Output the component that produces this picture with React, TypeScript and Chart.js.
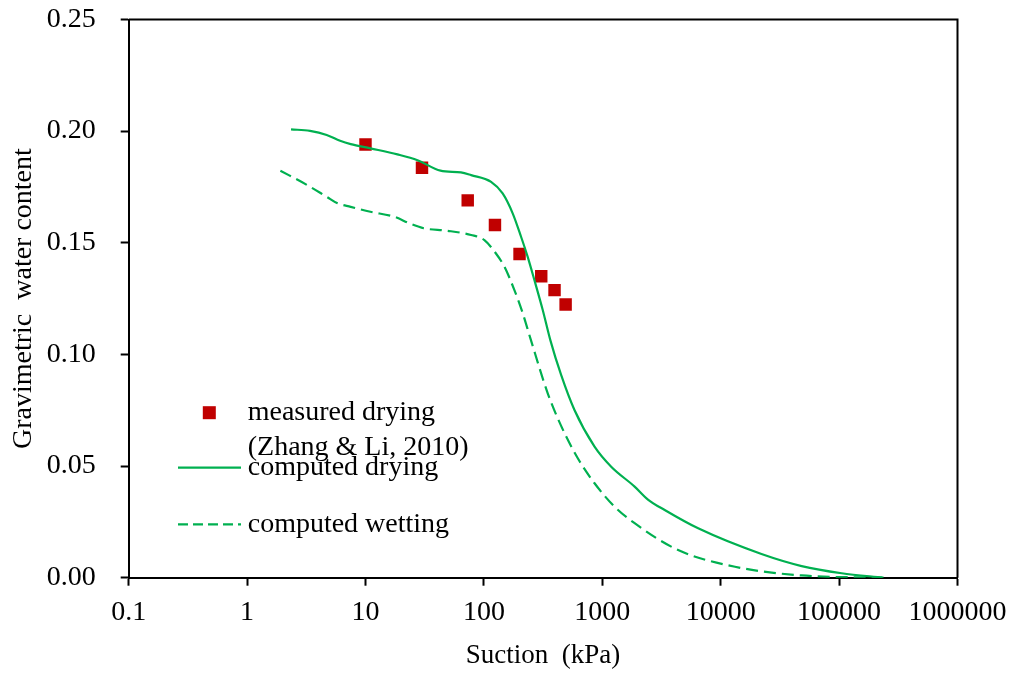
import { useEffect, useRef } from "react";
import { Chart, registerables } from "chart.js";

Chart.register(...registerables);

const FONT = "'Times New Roman', 'Liberation Serif', serif";
const GREEN = "#00B050";
const RED = "#C00000";

const xTickValues = [0.1, 1, 10, 100, 1000, 10000, 100000, 1000000];
const xTickLabels = ["0.1", "1", "10", "100", "1000", "10000", "100000", "1000000"];
const yTickValues = [0, 0.05, 0.1, 0.15, 0.2, 0.25];
const yTickLabels = ["0.00", "0.05", "0.10", "0.15", "0.20", "0.25"];

const measuredSuction = [10, 30, 73, 124, 200, 305, 395, 490];
const measuredWater = [0.194, 0.1836, 0.169, 0.158, 0.145, 0.135, 0.1288, 0.1224];

const dryingSuction = [2.35, 3.4, 4.7, 6.1, 7.5, 11, 18.6, 27.5, 43, 64, 78, 115, 144, 175, 206, 234, 267, 314, 364, 449, 582, 860, 1189, 1875, 2430, 3365, 6450, 22100, 48300, 105000, 237000];
const dryingWater = [0.2008, 0.2001, 0.1983, 0.1957, 0.1942, 0.1923, 0.1896, 0.187, 0.1823, 0.1815, 0.1803, 0.1773, 0.1721, 0.1632, 0.1527, 0.1438, 0.1333, 0.1199, 0.1064, 0.0908, 0.0751, 0.0587, 0.0497, 0.0408, 0.035, 0.0303, 0.0221, 0.0106, 0.0052, 0.002, 0.0];

const wettingSuction = [1.91, 3.2, 4.7, 5.8, 7.5, 11, 17.4, 24, 31, 49, 78, 101, 126, 149, 181, 213, 247, 346, 449, 621, 860, 1268, 1875, 4370, 13200, 48300, 230000];
const wettingWater = [0.1823, 0.1759, 0.1706, 0.1677, 0.1661, 0.1639, 0.1617, 0.1585, 0.1565, 0.1554, 0.1535, 0.1512, 0.1453, 0.1393, 0.1288, 0.1184, 0.1072, 0.0826, 0.068, 0.0535, 0.0423, 0.0318, 0.0244, 0.0124, 0.0049, 0.001, 0.0];

const legendLabels = ["measured drying", "(Zhang & Li, 2010)", "computed drying", "computed wetting"];

const toPoints = (xs: number[], ys: number[]) => xs.map((x, i) => ({ x, y: ys[i] }));

const framePlugin = {
  id: "frameLegend",
  afterDatasetsDraw(chart: any) {
    const { ctx, chartArea: a } = chart;
    ctx.save();
    ctx.strokeStyle = "#000";
    ctx.lineWidth = 2;
    ctx.beginPath();
    ctx.moveTo(a.left, a.top);
    ctx.lineTo(a.right, a.top);
    ctx.lineTo(a.right, a.bottom);
    ctx.stroke();

    // legend
    ctx.fillStyle = RED;
    ctx.fillRect(209.3 - 6.5, 412.7 - 6.5, 13, 13);
    ctx.strokeStyle = GREEN;
    ctx.lineWidth = 2.2;
    ctx.beginPath();
    ctx.moveTo(178, 467.7);
    ctx.lineTo(241, 467.7);
    ctx.stroke();
    ctx.setLineDash([10, 5]);
    ctx.beginPath();
    ctx.moveTo(178, 524.3);
    ctx.lineTo(241, 524.3);
    ctx.stroke();
    ctx.setLineDash([]);
    ctx.fillStyle = "#000";
    ctx.font = `28px ${FONT}`;
    ctx.textAlign = "left";
    ctx.textBaseline = "alphabetic";
    const baselines = [420, 455, 475, 531.7];
    legendLabels.forEach((t, i) => ctx.fillText(t, 247.7, baselines[i]));
    ctx.restore();
  },
};

export default function App() {
  const ref = useRef<HTMLCanvasElement | null>(null);
  useEffect(() => {
    document.body.style.margin = "0";
    const canvas = ref.current;
    if (!canvas) return;
    const chart = new Chart(canvas, {
      type: "scatter",
      data: {
        datasets: [
          {
            label: "computed drying",
            data: toPoints(dryingSuction, dryingWater),
            showLine: true,
            borderColor: GREEN,
            borderWidth: 2.2,
            pointRadius: 0,
            cubicInterpolationMode: "monotone",
          } as any,
          {
            label: "computed wetting",
            data: toPoints(wettingSuction, wettingWater),
            showLine: true,
            borderColor: GREEN,
            borderWidth: 2.2,
            borderDash: [12, 6],
            pointRadius: 0,
            cubicInterpolationMode: "monotone",
          } as any,
          {
            label: "measured drying",
            data: toPoints(measuredSuction, measuredWater),
            showLine: false,
            pointStyle: "rect",
            pointRadius: 8.8,
            backgroundColor: RED,
            borderColor: RED,
            borderWidth: 0,
          } as any,
        ],
      },
      options: {
        animation: false,
        responsive: false,
        layout: { padding: { left: 0, top: 19.5, right: 59.5, bottom: 0 } },
        plugins: { legend: { display: false }, tooltip: { enabled: false } },
        scales: {
          x: {
            type: "logarithmic",
            min: 0.1,
            max: 1000000,
            afterBuildTicks: (s: any) => {
              s.ticks = xTickValues.map((v) => ({ value: v }));
            },
            afterFit: (s: any) => {
              s.height = 99.3;
              s.paddingLeft = 0;
              s.paddingRight = 0;
              s.paddingTop = 0;
              s.paddingBottom = 0;
            },
            ticks: {
              autoSkip: false,
              maxRotation: 0,
              padding: 10,
              color: "#000",
              font: { family: FONT, size: 28 },
              callback: (_v: any, i: number) => xTickLabels[i],
            },
            grid: { drawOnChartArea: false, drawTicks: true, tickLength: 8, tickWidth: 2, tickColor: "#000" },
            border: { display: true, color: "#000", width: 2 },
            title: {
              display: true,
              text: "Suction  (kPa)",
              color: "#000",
              font: { family: FONT, size: 27 },
              padding: { top: 0, bottom: 5 },
            },
          },
          y: {
            type: "linear",
            min: 0,
            max: 0.25,
            afterBuildTicks: (s: any) => {
              s.ticks = yTickValues.map((v) => ({ value: v }));
            },
            afterFit: (s: any) => {
              s.width = 128.7;
              s.paddingLeft = 0;
              s.paddingRight = 0;
              s.paddingTop = 0;
              s.paddingBottom = 0;
            },
            ticks: {
              padding: 25,
              color: "#000",
              font: { family: FONT, size: 28 },
              callback: (_v: any, i: number) => yTickLabels[i],
            },
            grid: { drawOnChartArea: false, drawTicks: true, tickLength: 8, tickWidth: 2, tickColor: "#000" },
            border: { display: true, color: "#000", width: 2 },
            title: {
              display: true,
              text: "Gravimetric  water content",
              color: "#000",
              font: { family: FONT, size: 28 },
              padding: { top: 7, bottom: 0 },
            },
          },
        },
      },
      plugins: [framePlugin],
    });
    return () => chart.destroy();
  }, []);
  return (
    <div style={{ position: "absolute", left: 0, top: 0, width: 1017, height: 677 }}>
      <canvas ref={ref} width={1017} height={677} style={{ display: "block" }} />
    </div>
  );
}
